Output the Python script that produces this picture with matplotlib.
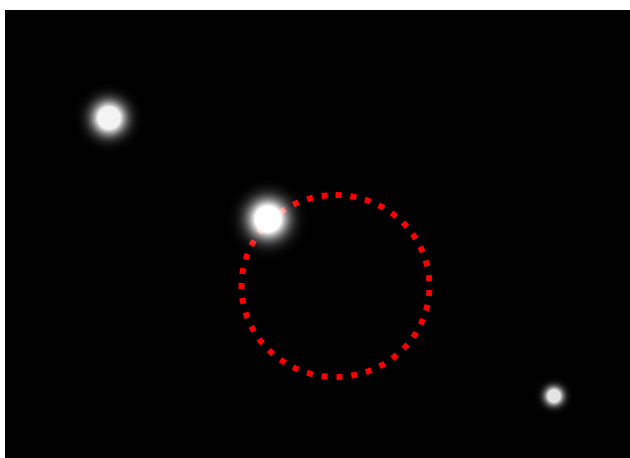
import numpy as np
import matplotlib
matplotlib.use("Agg")
import matplotlib.pyplot as plt
from matplotlib.patches import Ellipse

# image size (pixels)
img_w, img_h = 625, 448

# bright spots: centre x, centre y (image pixels), radius, peak brightness
spot_x = [104, 263, 549]
spot_y = [108, 209, 386]
spot_r = [18, 21, 10]
spot_peak = [0.96, 1.0, 0.9]

# dotted circle marker
circle_cx = 330.5
circle_cy = 276
circle_rx = 94
circle_ry = 91

fig = plt.figure(figsize=(6.3, 4.58), dpi=100)
ax = fig.add_axes([5 / 630, 0, 625 / 630, 448 / 458])
ax.set_facecolor("black")
for sp in ax.spines.values():
    sp.set_visible(False)
ax.set_xticks([])
ax.set_yticks([])

yy, xx = np.mgrid[0:img_h, 0:img_w] + 0.5
intensity = np.zeros((img_h, img_w))
for x, y, r, p in zip(spot_x, spot_y, spot_r, spot_peak):
    d = np.hypot(xx - x, yy - y)
    s = r * 0.6
    v = p * np.clip(1.7 * np.exp(-(d ** 2) / (2 * s ** 2)), 0, 1)
    intensity = np.maximum(intensity, v)

rgba = np.ones((img_h, img_w, 4))
rgba[..., 3] = intensity

circ = Ellipse((circle_cx, circle_cy), 2 * circle_rx, 2 * circle_ry,
               fill=False, edgecolor="red", linewidth=4.3,
               linestyle=(0, (1, 1.5)), zorder=1)
ax.add_patch(circ)
ax.imshow(rgba, extent=(0, img_w, img_h, 0), zorder=2, interpolation="bilinear")

ax.set_xlim(0, img_w)
ax.set_ylim(img_h, 0)
fig.patch.set_facecolor("white")
fig.savefig("out.png", dpi=100, facecolor="white")
